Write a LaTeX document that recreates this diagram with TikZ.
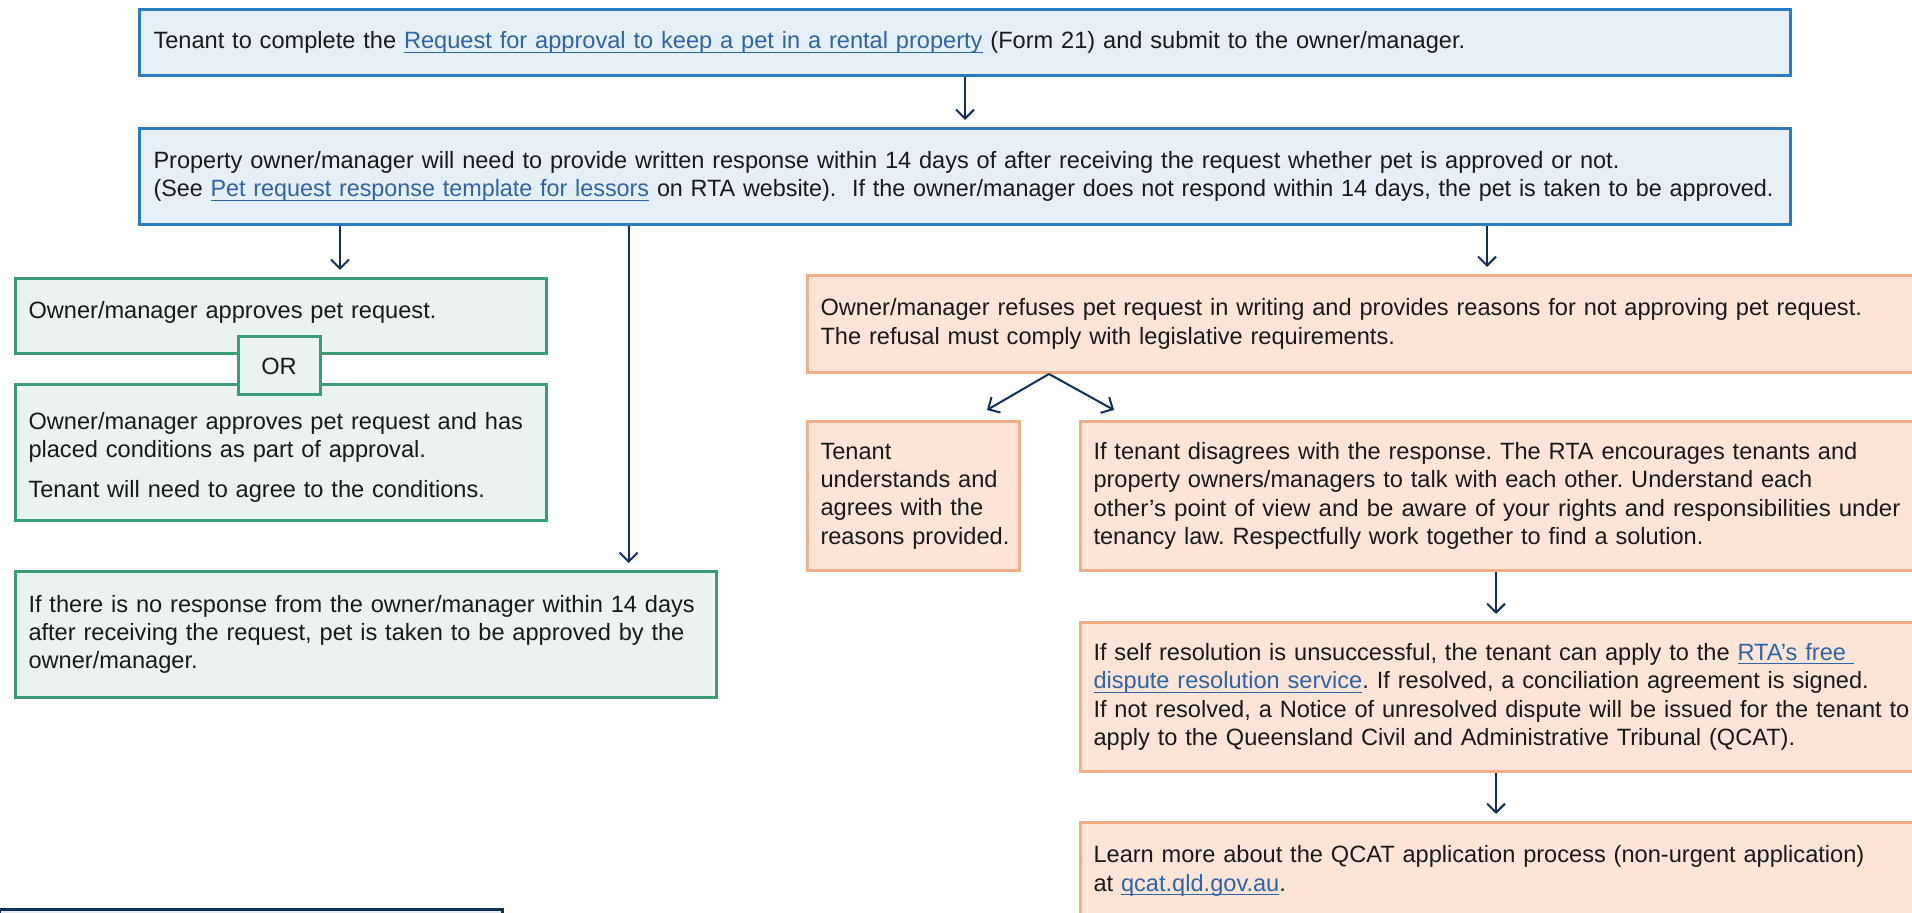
\documentclass[tikz,border=0pt]{standalone}
\usepackage{fontspec}
\setmainfont{Liberation Sans}
\usepackage{graphicx}
\usetikzlibrary{arrows.meta,calc}
\definecolor{bluebd}{HTML}{2B7BBF}
\definecolor{bluefl}{HTML}{E5EFF8}
\definecolor{greenbd}{HTML}{3A9D77}
\definecolor{greenfl}{HTML}{E9F3EF}
\definecolor{orangebd}{HTML}{F4AE85}
\definecolor{orangefl}{HTML}{FCE5D6}
\definecolor{navy}{HTML}{0F2F5C}
\definecolor{linkc}{HTML}{2E64A8}
\definecolor{txtc}{HTML}{1A1A1A}
\definecolor{greyfl}{HTML}{E6EAF0}
\newcommand{\lnk}[1]{\leavevmode{\color{linkc}\setbox0\hbox{#1}\rlap{\rule[-2pt]{\wd0}{0.6pt}}\box0}}
\newcommand{\fitline}[2]{\resizebox{#1}{\height}{#2}}
\begin{document}
\begin{tikzpicture}[x=1pt,y=-1pt,
  every node/.style={font=\fontsize{11.8}{14.2}\selectfont\frenchspacing, text=txtc},
  bx/.style={rectangle, line width=1.5pt, inner ysep=0pt, align=left, anchor=north west},
  bluebx/.style={bx, draw=bluebd, fill=bluefl, inner xsep=7pt},
  greenbx/.style={bx, draw=greenbd, fill=greenfl, inner xsep=6.5pt},
  orangebx/.style={bx, draw=orangebd, fill=orangefl, inner xsep=6.5pt},
  arr/.style={draw=navy, line width=1pt, -{Straight Barb[length=4.5pt,width=9pt]}, shorten >=3.5pt}]
\useasboundingbox (0,0) rectangle (956,456.5);
\clip (0,0) rectangle (956,456.5);

% blue boxes
\node[bluebx, minimum width=825.5pt, minimum height=32.75pt, text width=811.5pt] (t1) at (69,4.25)
  {\mbox{Tenant to complete the \lnk{Request for approval to keep a pet in a rental property} (Form 21) and submit to the owner/manager.}};
\node[bluebx, minimum width=825.5pt, minimum height=48pt, text width=811.5pt] (t2) at (69,63.5)
  {\fitline{733pt}{Property owner/manager will need to provide written response within 14 days of after receiving the request whether pet is approved or not.}\\
   \fitline{810pt}{(See \lnk{Pet request response template for lessors} on RTA website).\ \ If the owner/manager does not respond within 14 days, the pet is taken to be approved.}};

% green boxes
\node[greenbx, minimum width=265.5pt, minimum height=37.5pt, text width=252.5pt] (g1) at (7,138.5)
  {Owner/manager approves pet request.\rule[-6.3pt]{0pt}{6.3pt}};
\node[greenbx, minimum width=265.5pt, minimum height=68pt, text width=252.5pt] (g2) at (7,191.5)
  {\rule{0pt}{13.6pt}\mbox{Owner/manager approves pet request and has}\\
   placed conditions as part of approval.\\[5.85pt]
   Tenant will need to agree to the conditions.};
\node[greenbx, minimum width=41pt, minimum height=29pt, inner xsep=0pt, anchor=center, align=center] (or) at (139.5,183) {OR};
\node[greenbx, minimum width=350.5pt, minimum height=63pt, text width=337.5pt] (g3) at (7,285)
  {\mbox{If there is no response from the owner/manager within 14 days}\\
   \mbox{after receiving the request, pet is taken to be approved by the}\\
   owner/manager.};

% orange boxes
\node[orangebx, minimum height=48.5pt, text width=560pt] (o1) at (403,137)
  {Owner/manager refuses pet request in writing and provides reasons for not approving pet request.\\
   The refusal must comply with legislative requirements.};
\node[orangebx, minimum width=106pt, minimum height=74.5pt, text width=93pt] (ten) at (403,210)
  {Tenant\\ \mbox{understands and}\\ \mbox{agrees with the}\\ \mbox{reasons provided.}};
\node[orangebx, minimum height=74.5pt, text width=450pt] (o2) at (539.5,210)
  {If tenant disagrees with the response. The RTA encourages tenants and\\
   property owners/managers to talk with each other. Understand each\\
   \fitline{403.5pt}{other’s point of view and be aware of your rights and responsibilities under}\\
   tenancy law. Respectfully work together to find a solution.};
\node[orangebx, minimum height=74.5pt, text width=450pt] (o3) at (539.5,310.5)
  {If self resolution is unsuccessful, the tenant can apply to the \lnk{RTA’s free\ }\\
   \lnk{dispute resolution service}. If resolved, a conciliation agreement is signed.\\
   If not resolved, a Notice of unresolved dispute will be issued for the tenant to\\
   apply to the Queensland Civil and Administrative Tribunal (QCAT).};
\node[orangebx, minimum height=48.5pt, text width=450pt] (o4) at (539.5,410.5)
  {Learn more about the QCAT application process (non-urgent application)\\
   at \lnk{qcat.qld.gov.au}.};

% partial box at bottom left
\node[bx, draw=navy, fill=greyfl, minimum width=251.5pt, minimum height=30pt] (nav) at (-1,454) {};

% connectors
\coordinate (a1) at (170,0);
\coordinate (a2) at (314.3,0);
\coordinate (a3) at (743.5,0);
\coordinate (a4) at (748,0);
\coordinate (apex) at (524.5,0);
\coordinate (vl) at (493.5,205);
\coordinate (vr) at (557,205);
\draw[arr] (t1.south) -- (t2.north);
\draw[arr] (t2.south -| a1) -- (g1.north -| a1);
\draw[arr] (t2.south -| a2) -- (g3.north -| a2);
\draw[arr] (t2.south -| a3) -- (o1.north -| a3);
\draw[arr, shorten >=0pt] (o1.south -| apex) -- (vl);
\draw[arr, shorten >=0pt] (o1.south -| apex) -- (vr);
\draw[arr] (o2.south -| a4) -- (o3.north -| a4);
\draw[arr] (o3.south -| a4) -- (o4.north -| a4);
\end{tikzpicture}
\end{document}
